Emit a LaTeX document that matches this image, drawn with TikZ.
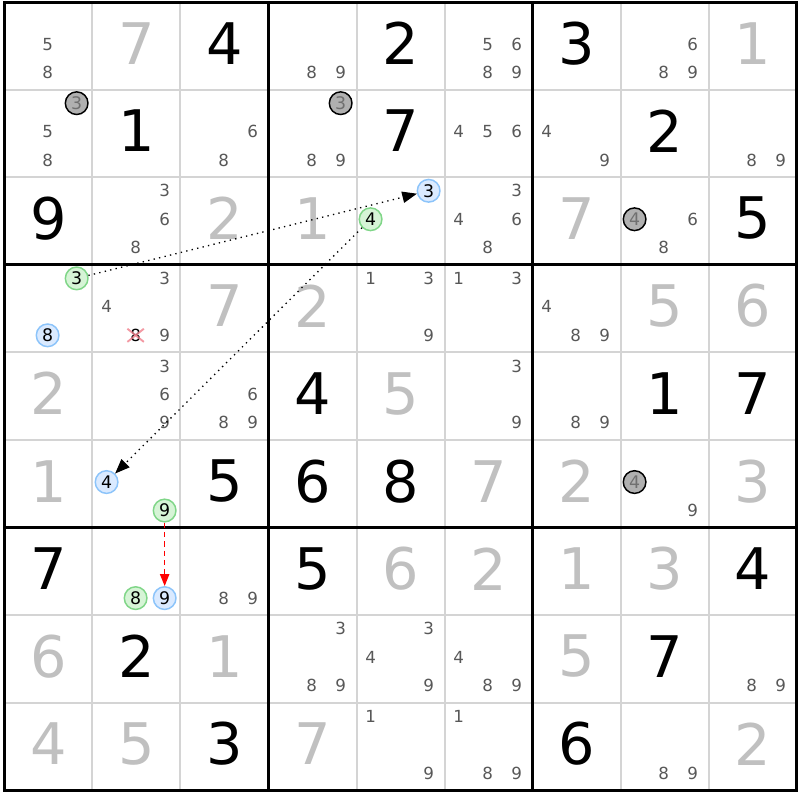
\documentclass[tikz,border=0pt]{standalone}
\usepackage{fontspec}
\setmainfont{DejaVu Sans}
\usetikzlibrary{arrows.meta}
\definecolor{solvedgray}{RGB}{192,192,192}
\definecolor{candgray}{RGB}{88,88,88}
\definecolor{thingray}{RGB}{212,212,212}
\definecolor{ringfill}{RGB}{176,176,176}
\definecolor{ringtext}{RGB}{112,112,112}
\definecolor{greenline}{RGB}{128,214,136}
\definecolor{greenfill}{RGB}{214,244,214}
\definecolor{blueline}{RGB}{140,196,250}
\definecolor{bluefill}{RGB}{218,234,255}
\definecolor{crossred}{RGB}{240,128,140}

\begin{document}
\begin{tikzpicture}[x=66pt, y=-65.7pt,
    given/.style={font=\fontsize{43}{43}\selectfont, inner sep=0pt},
    solved/.style={given, text=solvedgray},
    cand/.style={font=\fontsize{12.5}{14}\selectfont, text=candgray, inner sep=0pt},
    ring/.style={circle, line width=1.1pt, minimum size=17pt, inner sep=0pt, font=\fontsize{13}{14}\selectfont},
    ringgray/.style={ring, draw=black, fill=ringfill, text=ringtext},
    ringgreen/.style={ring, draw=greenline, fill=greenfill},
    ringblue/.style={ring, draw=blueline, fill=bluefill},
    link/.style={line width=1pt, dash pattern=on 1pt off 3.2pt, -{Triangle[length=11pt, width=8.5pt]}},
    redlink/.style={red, line width=1.1pt, dash pattern=on 4pt off 3pt, -{Triangle[length=9pt, width=7pt]}}]
    \useasboundingbox (-0.0511, -0.0228) rectangle (9.0398, 9.1096);
    \fill[white] (-0.0511, -0.0228) rectangle (9.0398, 9.1096);

    \foreach \i in {1,2,4,5,7,8} {
        \draw[thingray, line width=1.5pt] (\i, 0) -- (\i, 9);
        \draw[thingray, line width=1.5pt] (0, \i) -- (9, \i);
    }
    \foreach \i in {0,3,6,9} {
        \draw[black, line width=2.25pt] (\i, -0.0114) -- (\i, 9.0114);
        \draw[black, line width=2.25pt] (-0.017, \i) -- (9.017, \i);
    }

    \foreach \r/\c/\v in {1/3/4, 1/5/2, 1/7/3, 2/2/1, 2/5/7, 2/8/2, 3/1/9, 3/9/5,
        5/4/4, 5/8/1, 5/9/7, 6/3/5, 6/4/6, 6/5/8, 7/1/7, 7/4/5, 7/9/4,
        8/2/2, 8/8/7, 9/3/3, 9/7/6}
        \node[given] (v\r\c) at (\c-0.5, \r-0.53) {\v};

    \foreach \r/\c/\v in {1/2/7, 1/9/1, 3/3/2, 3/4/1, 3/7/7, 4/3/7, 4/4/2, 4/8/5, 4/9/6,
        5/1/2, 5/5/5, 6/1/1, 6/6/7, 6/7/2, 6/9/3, 7/5/6, 7/6/2, 7/7/1, 7/8/3,
        8/1/6, 8/3/1, 8/7/5, 9/1/4, 9/2/5, 9/4/7, 9/9/2}
        \node[solved] (v\r\c) at (\c-0.5, \r-0.53) {\v};

    \foreach \r/\c/\ds in {1/1/{5,8}, 1/4/{8,9}, 1/6/{5,6,8,9}, 1/8/{6,8,9},
        2/1/{5,8}, 2/3/{6,8}, 2/4/{8,9}, 2/6/{4,5,6}, 2/7/{4,9}, 2/9/{8,9},
        3/2/{3,6,8}, 3/6/{3,4,6,8}, 3/8/{6,8},
        4/2/{3,4,9}, 4/5/{1,3,9}, 4/6/{1,3}, 4/7/{4,8,9},
        5/2/{3,6,9}, 5/3/{6,8,9}, 5/6/{3,9}, 5/7/{8,9},
        6/8/{9}, 7/3/{8,9},
        8/4/{3,8,9}, 8/5/{3,4,9}, 8/6/{4,8,9}, 8/9/{8,9},
        9/5/{1,9}, 9/6/{1,8,9}, 9/8/{8,9}} {
        \foreach \d in \ds {
            \pgfmathtruncatemacro{\dx}{mod(\d-1,3)}
            \pgfmathtruncatemacro{\dy}{div(\d-1,3)}
            \node[cand] (c\r\c\d) at (\c-0.84+0.33*\dx, \r-0.845+0.325*\dy) {\d};
        }
    }

    \node[cand, text=black] (x428) at (1.49, 3.805) {8};
    \draw[crossred, line width=1.4pt, opacity=0.8] ([xshift=-2pt]x428.north west) -- ([xshift=2pt]x428.south east);
    \draw[crossred, line width=1.4pt, opacity=0.8] ([xshift=-2pt]x428.south west) -- ([xshift=2pt]x428.north east);

    \node[ringgray] (k213) at (0.82, 1.155) {3};
    \node[ringgray] (k243) at (3.82, 1.155) {3};
    \node[ringgray] (k384) at (7.16, 2.48) {4};
    \node[ringgray] (k684) at (7.16, 5.48) {4};

    \node[ringgreen] (g3) at (0.82, 3.155) {3};
    \node[ringblue] (b8) at (0.49, 3.805) {8};
    \node[ringblue] (b3) at (4.82, 2.155) {3};
    \node[ringgreen] (g4) at (4.16, 2.48) {4};
    \node[ringblue] (b4) at (1.16, 5.48) {4};
    \node[ringgreen] (g9) at (1.82, 5.805) {9};
    \node[ringgreen] (g8) at (1.49, 6.805) {8};
    \node[ringblue] (b9) at (1.82, 6.805) {9};

    \draw[link] (g3) -- (b3);
    \draw[link] (g4) -- (b4);
    \draw[redlink] (g9) -- (b9);
\end{tikzpicture}
\end{document}
